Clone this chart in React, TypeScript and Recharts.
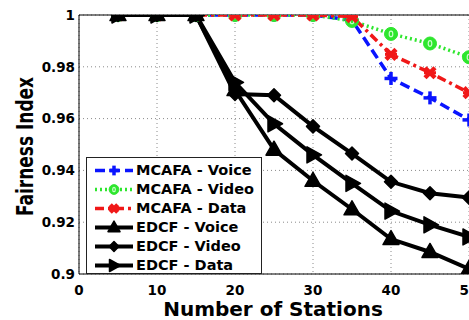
import React from 'react';
import { LineChart, Line, XAxis, YAxis, CartesianGrid, ReferenceLine, Label } from 'recharts';

const stations = [5, 10, 15, 20, 25, 30, 35, 40, 45, 50];
const mcafaVoice = [1, 1, 1, 1, 1, 1, 0.998, 0.9755, 0.968, 0.9595];
const mcafaVideo = [1, 1, 1, 1, 1, 1, 0.9977, 0.9927, 0.989, 0.9837];
const mcafaData = [1, 1, 1, 1, 1, 1, 0.9994, 0.9848, 0.9777, 0.970];
const edcfVoice = [1, 1, 1, 0.971, 0.948, 0.936, 0.925, 0.9135, 0.9085, 0.902];
const edcfVideo = [1, 1, 1, 0.9695, 0.969, 0.957, 0.9465, 0.9356, 0.9312, 0.9295];
const edcfData = [1, 1, 1, 0.974, 0.958, 0.946, 0.935, 0.9243, 0.919, 0.9143];
const xTicks = [0, 10, 20, 30, 40, 50];
const yTicks = [0.9, 0.92, 0.94, 0.96, 0.98, 1];
const seriesNames = ['MCAFA - Voice', 'MCAFA - Video', 'MCAFA - Data', 'EDCF - Voice', 'EDCF - Video', 'EDCF - Data'];
const xTitle = 'Number of Stations';
const yTitle = 'Fairness Index';

const FONT = '"DejaVu Sans", sans-serif';
const BLUE = '#0a14ff';
const GREEN = '#2ee62e';
const RED = '#f01818';
const BLACK = '#000';

const data = stations.map((s, i) => ({
  x: s,
  mv: mcafaVoice[i],
  mvi: mcafaVideo[i],
  md: mcafaData[i],
  ev: edcfVoice[i],
  evi: edcfVideo[i],
  ed: edcfData[i],
}));

type M = { cx: number; cy: number; k?: number };

const PlusMark = ({ cx, cy, k = 1 }: M) => (
  <g>
    <line x1={cx - 6.5 * k} x2={cx + 6.5 * k} y1={cy} y2={cy} stroke={BLUE} strokeWidth={3.5} />
    <line x1={cx} x2={cx} y1={cy - 6.5 * k} y2={cy + 6.5 * k} stroke={BLUE} strokeWidth={3.5} />
  </g>
);
const CircleMark = ({ cx, cy, k = 1 }: M) => (
  <g>
    <circle cx={cx} cy={cy} r={6.5 * k} fill={GREEN} stroke={GREEN} strokeWidth={1} />
    <ellipse cx={cx} cy={cy} rx={1.8 * k} ry={2.8 * k} fill="none" stroke="#c8ffc8" strokeWidth={1.2} />
  </g>
);
const XMark = ({ cx, cy, k = 1 }: M) => (
  <g>
    <line x1={cx - 5 * k} x2={cx + 5 * k} y1={cy - 5 * k} y2={cy + 5 * k} stroke={RED} strokeWidth={4.5} />
    <line x1={cx - 5 * k} x2={cx + 5 * k} y1={cy + 5 * k} y2={cy - 5 * k} stroke={RED} strokeWidth={4.5} />
    <line x1={cx - 6 * k} x2={cx + 6 * k} y1={cy} y2={cy} stroke={RED} strokeWidth={3} />
  </g>
);
const TriUpMark = ({ cx, cy, k = 1 }: M) => (
  <polygon
    points={`${cx},${cy - 8.5 * k} ${cx - 8 * k},${cy + 5.5 * k} ${cx + 8 * k},${cy + 5.5 * k}`}
    fill={BLACK}
    stroke={BLACK}
    strokeWidth={1.5}
    strokeLinejoin="round"
  />
);
const DiamondMark = ({ cx, cy, k = 1 }: M) => (
  <polygon
    points={`${cx},${cy - 6.5 * k} ${cx + 6.5 * k},${cy} ${cx},${cy + 6.5 * k} ${cx - 6.5 * k},${cy}`}
    fill={BLACK}
    stroke={BLACK}
    strokeWidth={1.5}
    strokeLinejoin="round"
  />
);
const TriRightMark = ({ cx, cy, k = 1 }: M) => (
  <polygon
    points={`${cx - 6 * k},${cy - 8 * k} ${cx + 8.5 * k},${cy} ${cx - 6 * k},${cy + 8 * k}`}
    fill={BLACK}
    stroke={BLACK}
    strokeWidth={1.5}
    strokeLinejoin="round"
  />
);

const series = [
  { key: 'mv', color: BLUE, width: 3.5, dash: '10 5', Mark: PlusMark },
  { key: 'mvi', color: GREEN, width: 3.5, dash: '2 3', Mark: CircleMark },
  { key: 'md', color: RED, width: 3.5, dash: '9 4 3 4', Mark: XMark },
  { key: 'ev', color: BLACK, width: 4, dash: undefined, Mark: TriUpMark },
  { key: 'evi', color: BLACK, width: 4, dash: undefined, Mark: DiamondMark },
  { key: 'ed', color: BLACK, width: 4, dash: undefined, Mark: TriRightMark },
];

const fmt = (v: number) => String(Number(v.toFixed(2)));

const YTitle = (props: any) => {
  const vb = props.viewBox || { x: 0, y: 15, width: 79, height: 259 };
  const cy = vb.y + vb.height / 2 + 2;
  return (
    <text
      transform={`translate(33,${cy}) scale(1.4,1) rotate(-90)`}
      textAnchor="middle"
      fontFamily={FONT}
      fontWeight="bold"
      fontSize={17}
      fill="#000"
    >
      {yTitle}
    </text>
  );
};

const XTitle = (props: any) => {
  const vb = props.viewBox || { x: 79, y: 274, width: 390, height: 46 };
  return (
    <text
      x={vb.x + vb.width / 2 - 1}
      y={vb.y + vb.height - 4}
      textAnchor="middle"
      fontFamily={FONT}
      fontWeight="bold"
      fontSize={20}
      fill="#000"
    >
      {xTitle}
    </text>
  );
};

const LegendBox = () => (
  <div
    style={{
      position: 'absolute',
      left: 86,
      top: 157,
      width: 174,
      height: 112.5,
      border: '1px solid #222',
      background: '#fff',
      paddingTop: 2.5,
      boxSizing: 'content-box',
    }}
  >
    {series.map((s, i) => (
      <div key={s.key} style={{ height: 19, display: 'flex', alignItems: 'center' }}>
        <svg width={48} height={19} style={{ display: 'block', flex: 'none' }}>
          <line x1={8} x2={46} y1={9.5} y2={9.5} stroke={s.color} strokeWidth={s.width} strokeDasharray={s.dash} />
          <s.Mark cx={27} cy={9.5} k={0.75} />
        </svg>
        <span
          style={{
            fontFamily: FONT,
            fontWeight: 'bold',
            fontSize: 14.5,
            color: '#000',
            whiteSpace: 'nowrap',
            lineHeight: '19px',
            marginLeft: 1,
          }}
        >
          {seriesNames[i]}
        </span>
      </div>
    ))}
  </div>
);

export default function App() {
  return (
    <div
      style={{
        position: 'absolute',
        left: 0,
        top: 0,
        width: 469,
        height: 320,
        overflow: 'hidden',
        background: '#fff',
      }}
    >
      <LineChart width={480} height={320} data={data} margin={{ top: 15, right: 11, bottom: 0, left: 0 }}>
        <CartesianGrid stroke="#8a8a8a" strokeDasharray="1 3" verticalValues={xTicks} horizontalValues={yTicks} />
        <XAxis
          dataKey="x"
          type="number"
          domain={[0, 50]}
          ticks={xTicks}
          height={46}
          tickLine={false}
          tickSize={0}
          tickMargin={11}
          axisLine={{ stroke: '#000', strokeWidth: 1 }}
          tick={{ fontSize: 13.5, fontWeight: 'bold', fill: '#000', fontFamily: FONT }}
          allowDataOverflow
        >
          <Label content={<XTitle />} />
        </XAxis>
        <YAxis
          type="number"
          domain={[0.9, 1]}
          ticks={yTicks}
          width={79}
          tickLine={false}
          tickSize={0}
          tickMargin={4}
          tickFormatter={fmt}
          axisLine={{ stroke: '#000', strokeWidth: 1 }}
          tick={{ fontSize: 13.5, fontWeight: 'bold', fill: '#000', fontFamily: FONT }}
          allowDataOverflow
        >
          <Label content={<YTitle />} />
        </YAxis>
        <ReferenceLine y={1} stroke="#000" strokeWidth={1} />
        {series.map((s) => (
          <Line
            key={s.key}
            dataKey={s.key}
            type="linear"
            stroke={s.color}
            strokeWidth={s.width}
            strokeDasharray={s.dash}
            isAnimationActive={false}
            dot={(p: any) => <s.Mark key={`${s.key}-${p.index}`} cx={p.cx} cy={p.cy} />}
            activeDot={false}
          />
        ))}
      </LineChart>
      <LegendBox />
    </div>
  );
}
